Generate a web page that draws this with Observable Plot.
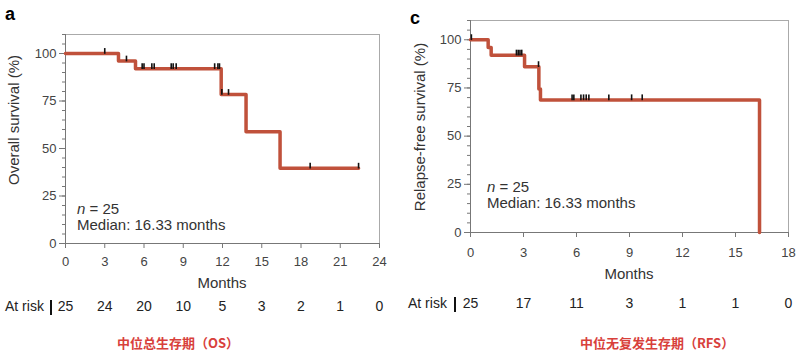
<!DOCTYPE html>
<html>
<head>
<meta charset="utf-8">
<script src="https://cdn.jsdelivr.net/npm/d3@7"></script>
<script src="https://cdn.jsdelivr.net/npm/@observablehq/plot@0.6"></script>
<style>
  html, body { margin: 0; padding: 0; background: #fff; }
  #wrap { position: relative; width: 800px; height: 357px; overflow: hidden; font-family: "Liberation Sans", Arial, sans-serif; color: #333; }
  .abs { position: absolute; white-space: nowrap; }
  .panel { font-weight: bold; font-size: 18px; color: #000; }
  .ann { font-size: 15px; line-height: 16px; color: #333; }
  .mon { font-size: 15px; line-height: 16px; color: #333; transform: translateX(-50%); }
  .ylab { font-size: 15px; line-height: 16px; color: #333; transform: translate(-50%, -50%) rotate(-90deg); }
  .risk { font-size: 14px; color: #222; }
  .cap { font-family: "Noto Sans CJK SC", sans-serif; font-weight: bold; font-size: 13px; color: #d8403b; }
  .bar { position: absolute; width: 2px; background: #111; }
</style>
</head>
<body>
<div id="wrap"></div>
<script>
// ---------- Data ----------
// Overall survival (OS) Kaplan–Meier steps
const osTimes = [0, 4.05, 5.35, 11.9, 13.8, 16.4, 22.4];
const osSurv  = [100, 96, 92, 78.4, 58.8, 39.6, 39.6];
// OS censor marks
const osCensorT = [3.0, 4.66, 5.86, 6.0, 6.6, 6.78, 8.08, 8.23, 8.46, 11.4, 11.65, 11.77, 11.95, 12.46, 18.7, 22.4];
const osCensorS = [100, 96, 92, 92, 92, 92, 92, 92, 92, 92, 92, 92, 78.4, 78.4, 39.6, 39.6];
// OS number at risk
const osRiskT = [0, 3, 6, 9, 12, 15, 18, 21, 24];
const osRisk  = [25, 24, 20, 10, 5, 3, 2, 1, 0];

// Relapse-free survival (RFS) steps
const rfsTimes = [0, 1.0, 1.17, 3.06, 3.87, 3.96, 16.36];
const rfsSurv  = [100, 96, 92, 86, 74.5, 68.8, 0];
// RFS censor marks
const rfsCensorT = [0.05, 2.6, 2.7, 2.8, 2.9, 3.85, 5.75, 5.85, 6.25, 6.4, 6.55, 6.7, 7.83, 9.12, 9.72];
const rfsCensorS = [100, 92, 92, 92, 92, 86, 68.8, 68.8, 68.8, 68.8, 68.8, 68.8, 68.8, 68.8, 68.8];
// RFS number at risk
const rfsRiskT = [0, 3, 6, 9, 12, 15, 18];
const rfsRisk  = [25, 17, 11, 3, 1, 1, 0];

const yMajor = [0, 25, 50, 75, 100];
const yMinor = d3.range(0, 111, 5);

const lineColor = "#c0513b";

function kmChart(opts) {
  const curve = opts.times.map((t, i) => ({t, s: opts.surv[i]}));
  const cens = opts.cT.map((t, i) => ({t, s: opts.cS[i]}));
  return Plot.plot({
    width: 400, height: 320,
    marginLeft: opts.ml, marginRight: opts.mr, marginTop: opts.mt, marginBottom: opts.mb,
    style: {fontFamily: "Liberation Sans, Arial, sans-serif", fontSize: "13px", color: "#444", background: "transparent", overflow: "visible"},
    x: {domain: [0, opts.xMax]},
    y: {domain: [0, 110]},
    marks: [
      Plot.frame({stroke: "#aaa"}),
      Plot.ruleX([0], {stroke: "#777"}),
      Plot.ruleY([0], {stroke: "#777"}),
      Plot.axisY({ticks: yMinor, tickSize: 3, tickFormat: () => "", stroke: "#777", label: null}),
      Plot.axisY({ticks: yMajor, tickSize: 6, tickPadding: 3, stroke: "#777", fontSize: 13, label: null}),
      Plot.axisX({ticks: opts.riskT, tickSize: 5, tickPadding: opts.tp, stroke: "#777", fontSize: 13, label: null}),
      Plot.axisX({ticks: opts.riskT, tickSize: 0, tickPadding: opts.riskPad, fontSize: 14, fill: "#222",
        tickFormat: (d) => opts.risk[opts.riskT.indexOf(d)], label: null}),
      Plot.line(curve, {x: "t", y: "s", curve: "step-after", stroke: lineColor, strokeWidth: 3.5}),
      Plot.ruleX(cens, {x: "t", y1: d => d.s - 0.4, y2: d => d.s + 2.6, stroke: "#111", strokeWidth: 1.6})
    ]
  });
}

const wrap = document.getElementById("wrap");

function place(node, left, top) {
  node.style.position = "absolute";
  node.style.left = left + "px";
  node.style.top = top + "px";
  wrap.appendChild(node);
}

const osPlot = kmChart({times: osTimes, surv: osSurv, cT: osCensorT, cS: osCensorS,
  riskT: osRiskT, risk: osRisk, xMax: 24, ml: 65, mr: 21, mt: 34, mb: 77,
  tp: 8, riskPad: 58});
place(osPlot, 0, 0);

const rfsPlot = kmChart({times: rfsTimes, surv: rfsSurv, cT: rfsCensorT, cS: rfsCensorS,
  riskT: rfsRiskT, risk: rfsRisk, xMax: 18, ml: 70, mr: 12, mt: 20, mb: 88,
  tp: 10, riskPad: 66});
place(rfsPlot, 400, 0);

function html(cls, text, left, top) {
  const d = document.createElement("div");
  d.className = "abs " + cls;
  d.innerHTML = text;
  d.style.left = left + "px";
  d.style.top = top + "px";
  wrap.appendChild(d);
  return d;
}
function bar(left, top, h) {
  const d = document.createElement("div");
  d.className = "bar";
  d.style.left = left + "px"; d.style.top = top + "px"; d.style.height = h + "px";
  wrap.appendChild(d);
}

html("panel", "a", 5, 4);
html("panel", "c", 410, 8);

html("ylab", "Overall survival (%)", 14, 120);
html("ylab", "Relapse-free survival (%)", 420, 127);

html("mon", "Months", 222, 275);
html("mon", "Months", 629, 266);

html("ann", "<i>n</i> = 25", 77, 201);
html("ann", "Median: 16.33 months", 77, 217);
html("ann", "<i>n</i> = 25", 487, 179);
html("ann", "Median: 16.33 months", 487, 195);

html("risk", "At risk", 5, 298);
bar(50, 300, 15);
html("risk", "At risk", 408, 295);
bar(454, 297, 15);

html("cap", "中位总生存期（OS）", 117, 333);
html("cap", "中位无复发生存期（RFS）", 580, 333);
</script>
</body>
</html>
